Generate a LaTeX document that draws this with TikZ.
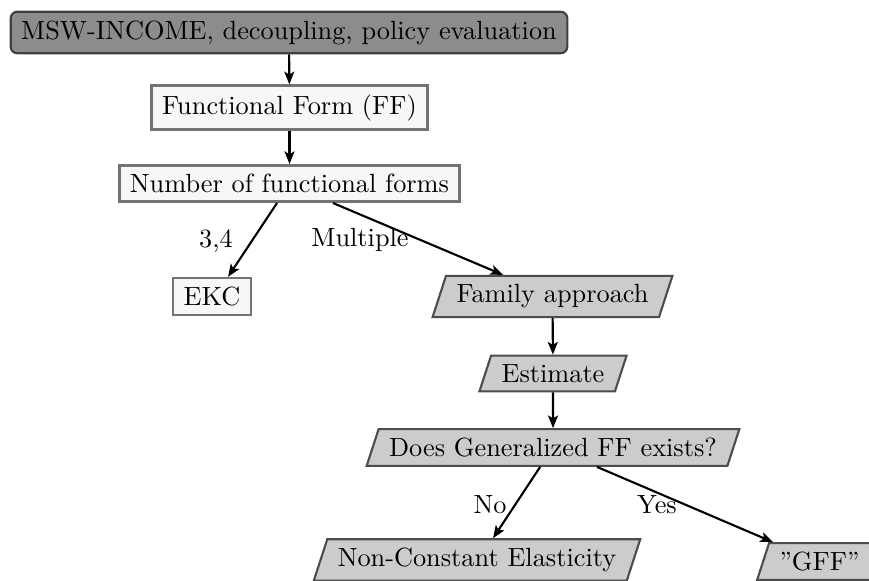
\documentclass[tikz,border=0pt]{standalone}
\usetikzlibrary{shapes.geometric,arrows.meta,calc}
\begin{document}
\begin{tikzpicture}[x=0.38pt,y=-0.38pt,
  topbox/.style={draw=black!75, fill=black!45, rounded corners=2.5pt, thick, inner xsep=4pt, inner ysep=3.33pt},
  rectbox/.style={draw=black!55, fill=black!3, line width=1pt, inner xsep=4pt, inner ysep=3.33pt},
  parbox/.style={trapezium, trapezium left angle=72, trapezium right angle=108, draw=black!70, fill=black!20, thick, inner xsep=4pt, inner ysep=3.33pt},
  arr/.style={thick, -{Stealth[length=4.8pt,width=3.8pt,inset=1.1pt]}},
  lbl/.style={inner sep=0pt}]
\useasboundingbox (0,0) rectangle (869,580);
\node[topbox] (top) at (289,32.5) {MSW-INCOME, decoupling, policy evaluation};
\node[rectbox] (ff) at (289.5,107.5) {Functional Form (FF)};
\node[rectbox] (num) at (289.5,183.5) {Number of functional forms};
\node[rectbox] (ekc) at (212,296.5) {EKC};
\node[parbox] (fam) at (552.5,296.5) {Family approach};
\node[parbox] (est) at (553,373.5) {Estimate};
\node[parbox] (gen) at (553,447.5) {Does Generalized FF exists?};
\node[parbox] (nce) at (477,560) {Non-Constant Elasticity};
\node[parbox] (gff) at (819.5,561.5) {"GFF"};
\draw[arr] (top) -- (ff);
\draw[arr] (ff) -- (num);
\draw[arr] ([xshift=-4.75pt]num.south) -- ([xshift=6.1pt]ekc.north);
\draw[arr] ([xshift=16.5pt]num.south) -- ([xshift=-18.8pt]fam.north);
\draw[arr] (fam) -- (est);
\draw[arr] (est) -- (gen);
\draw[arr] ([xshift=-4.9pt]gen.south) -- ([xshift=6.1pt]nce.north);
\draw[arr] ([xshift=16.7pt]gen.south) -- ([xshift=-17.7pt]gff.north);
\node[lbl] (l34) at (216,241) {3,4};
\node[lbl] (lmul) at (360,240) {Multiple};
\node[lbl] (lno) at (490,505) {No};
\node[lbl] (lyes) at (657,505) {Yes};
\end{tikzpicture}
\end{document}
